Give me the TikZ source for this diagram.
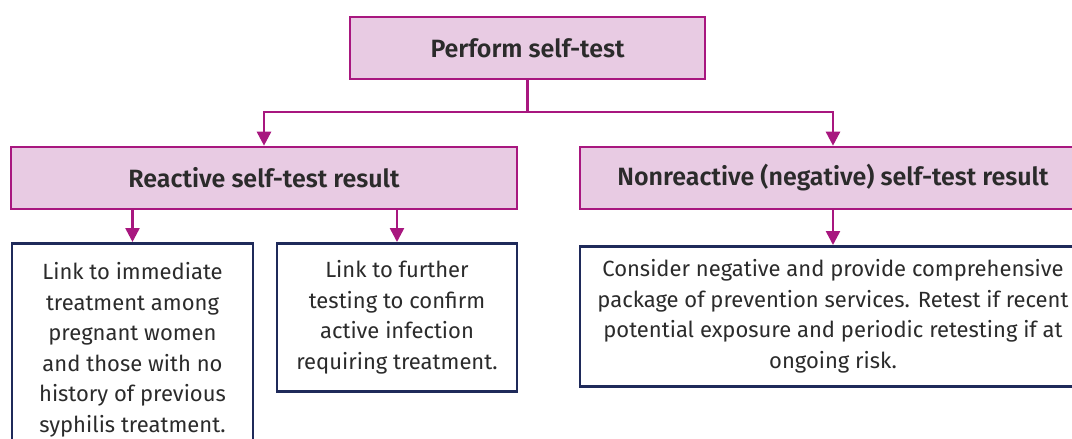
\documentclass[tikz,border=0pt]{standalone}
\usepackage{fontspec}
\setmainfont{Fira Sans}[BoldFont={Fira Sans SemiBold}]
\usetikzlibrary{arrows.meta}
\usetikzlibrary{positioning}
\definecolor{plum}{HTML}{A8177F}
\definecolor{plumfill}{HTML}{E8CBE3}
\definecolor{navy}{HTML}{1F2A5A}
\definecolor{ink}{HTML}{2B2B2B}
\tikzset{
  result/.style = {rectangle, draw=plum, fill=plumfill, line width=2.6pt, minimum height=62pt,
                   text=ink, font=\fontsize{25}{30}\selectfont\bfseries, text centered},
  action/.style = {rectangle, draw=navy, fill=white, line width=2.6pt, text=ink, align=center,
                   font=\fontsize{22}{30.6}\selectfont, inner sep=0pt},
  link/.style   = {draw=plum, line width=2.6pt},
  arrow/.style  = {link, -{Triangle[length=14pt,width=14pt]}}
}

\begin{document}
\begin{tikzpicture}[x=1pt,y=1pt]

  \useasboundingbox (0,0) rectangle (1072,-439);
  \clip (0,0) rectangle (1072,-439);

  \node (selftest) [result, minimum width=355pt] at (527.5,-48) {Perform self-test};
  \node (reactive) [result, minimum width=506pt] at (264,-178) {Reactive self-test result};
  \node (nonreactive) [result, minimum width=506pt] at (833,-178) {Nonreactive (negative) self-test result};

  \node (treat) [action, minimum width=241pt, minimum height=213pt, anchor=north]
        at (132.5,-242) {Link to immediate\\treatment among\\pregnant women\\and those with no\\history of previous\\syphilis treatment.};
  \node (confirm) [action, minimum width=240pt, minimum height=148pt, anchor=north]
        at (397,-242) {Link to further\\testing to confirm\\active infection\\requiring treatment.};
  \node (prevent) [action, minimum width=506pt, minimum height=140pt, anchor=north]
        at (833,-245) {Consider negative and provide comprehensive\\package of prevention services. Retest if recent\\potential exposure and periodic retesting if at\\ongoing risk.};

  % split below the self-test
  \coordinate (fork) at (527.5,-112);
  \draw [link] (selftest.south) -- (fork);
  \draw [arrow] (fork) -| (reactive.north);
  \draw [arrow] (fork) -| (nonreactive.north);

  % results to actions
  \draw [arrow] (treat.north |- reactive.south) -- (treat.north);
  \draw [arrow] (confirm.north |- reactive.south) -- (confirm.north);
  \draw [arrow] (nonreactive.south) -- (prevent.north);

\end{tikzpicture}
\end{document}
